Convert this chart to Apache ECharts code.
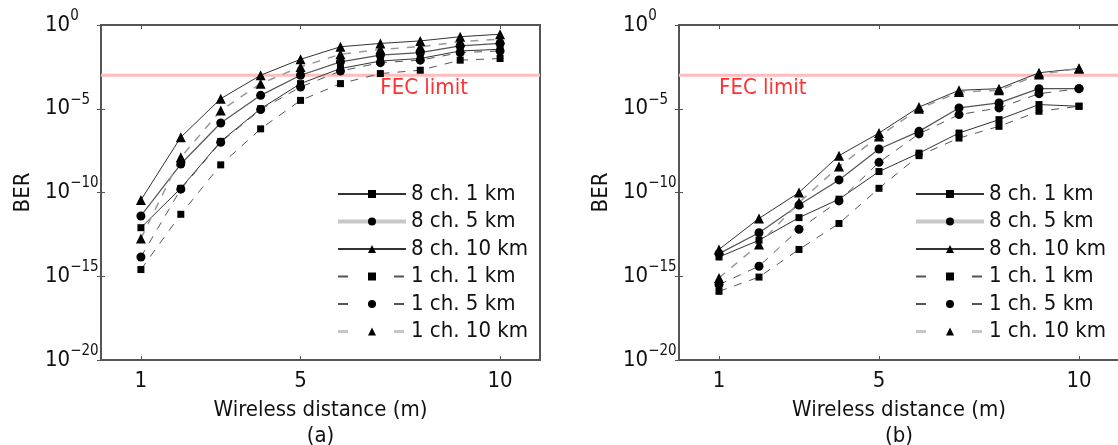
<!DOCTYPE html>
<html>
<head>
<meta charset="utf-8">
<script src="https://cdn.jsdelivr.net/npm/echarts@6/dist/echarts.min.js"></script>
<style>html,body{margin:0;padding:0;background:#fff}#c{width:1118px;height:445px}</style>
</head>
<body>
<div id="c"></div>
<script>
// Wireless distance (m)
const distances = [1, 2, 3, 4, 5, 6, 7, 8, 9, 10];
const xTickValues = [1, 5, 10];
const seriesNames = ['8 ch. 1 km', '8 ch. 5 km', '8 ch. 10 km', '1 ch. 1 km', '1 ch. 5 km', '1 ch. 10 km'];
const fecLimit = 1e-3;
const fecSpan = [0, 11];
// BER values given as log10(BER), panel (a)
const a8ch1  = [-12.1, -9.75, -6.95, -5.0, -3.5, -2.6, -2.15, -2.0, -1.55, -1.45];
const a8ch5  = [-11.4, -8.3, -5.85, -4.2, -3.0, -2.2, -1.8, -1.65, -1.25, -1.1];
const a8ch10 = [-10.45, -6.7, -4.4, -3.0, -2.05, -1.3, -1.1, -0.95, -0.7, -0.55];
const a1ch1  = [-14.6, -11.3, -8.35, -6.2, -4.5, -3.5, -2.9, -2.7, -2.1, -2.0];
const a1ch5  = [-13.85, -9.8, -7.0, -5.05, -3.7, -2.75, -2.25, -2.1, -1.65, -1.55];
const a1ch10 = [-12.75, -7.9, -5.1, -3.5, -2.5, -1.75, -1.45, -1.3, -1.0, -0.85];
// panel (b)
const b8ch1  = [-13.85, -12.85, -11.5, -10.4, -8.75, -7.65, -6.45, -5.65, -4.75, -4.85];
const b8ch5  = [-13.65, -12.4, -10.75, -9.25, -7.4, -6.35, -4.95, -4.65, -3.8, -3.8];
const b8ch10 = [-13.4, -11.55, -10.0, -7.8, -6.45, -4.9, -3.9, -3.8, -2.85, -2.6];
const b1ch1  = [-15.9, -15.05, -13.4, -11.85, -9.75, -7.8, -6.75, -6.05, -5.15, -4.85];
const b1ch5  = [-15.5, -14.4, -12.2, -10.5, -8.2, -6.5, -5.35, -4.95, -4.1, -3.8];
const b1ch10 = [-15.1, -13.1, -10.6, -8.45, -6.65, -5.0, -4.0, -3.9, -2.95, -2.6];

const FONT = '"DejaVu Sans Condensed", "DejaVu Sans", sans-serif';
const styles = [
  {symbol: 'rect', size: 7, color: '#333', width: 1, dash: 'solid', legend: {}},
  {symbol: 'circle', size: 9, color: '#555', width: 1.2, dash: 'solid', legend: {color: '#c8c8c8', width: 4}},
  {symbol: 'triangle', size: 10, color: '#333', width: 1, dash: 'solid', legend: {}},
  {symbol: 'rect', size: 7, color: '#555', width: 1, dash: [8, 8], legend: {type: [10, 46]}},
  {symbol: 'circle', size: 9, color: '#555', width: 1, dash: [8, 8], legend: {type: [10, 46]}},
  {symbol: 'triangle', size: 10, color: '#999', width: 1.5, dash: [8, 8], legend: {type: [10, 46], color: '#c8c8c8', width: 3}}
];
const panels = [
  [a8ch1, a8ch5, a8ch10, a1ch1, a1ch5, a1ch10],
  [b8ch1, b8ch5, b8ch10, b1ch1, b1ch5, b1ch10]
];
const gridsPos = [{left: 101, top: 25, width: 439, height: 335}, {left: 679, top: 25, width: 440, height: 335}];
const fecLabelX = [7, 1];

function yFmt(v) {
  const e = Math.round(Math.log10(v));
  return '{b|10}{s|' + (e === 0 ? '0' : '\u2212' + (-e)) + '}';
}

const grid = [], xAxis = [], yAxis = [], series = [];
gridsPos.forEach((g, i) => {
  grid.push(Object.assign({show: true, borderColor: '#555', borderWidth: 2, backgroundColor: 'transparent',
    containLabel: false, outerBoundsMode: 'none'}, g));
  xAxis.push({
    gridIndex: i, type: 'value', min: 0, max: 11, position: 'bottom',
    name: 'Wireless distance (m)\n' + (i === 0 ? '(a)' : '(b)'), nameLocation: 'middle', nameGap: 36,
    nameTextStyle: {fontFamily: FONT, fontSize: 22, color: '#111', lineHeight: 26},
    axisLine: {show: false}, splitLine: {show: false},
    axisTick: {show: true, inside: true, length: 4, customValues: xTickValues, lineStyle: {color: '#555'}},
    axisLabel: {customValues: xTickValues, margin: 10, fontFamily: FONT, fontSize: 22, color: '#111'}
  });
  xAxis.push({
    gridIndex: i, type: 'value', min: 0, max: 11, position: 'top',
    axisLine: {show: false}, splitLine: {show: false},
    axisTick: {show: true, inside: true, length: 4, customValues: xTickValues, lineStyle: {color: '#555'}},
    axisLabel: {show: false}
  });
  yAxis.push({
    gridIndex: i, type: 'log', logBase: 10, min: 1e-20, max: 1, interval: 5, position: 'left',
    name: 'BER', nameLocation: 'middle', nameGap: 67,
    nameTextStyle: {fontFamily: FONT, fontSize: 22, color: '#111'},
    axisLine: {show: false}, splitLine: {show: false}, minorTick: {show: false},
    axisTick: {show: true, inside: true, length: 4, lineStyle: {color: '#555'}},
    axisLabel: {margin: 56, align: 'left', formatter: yFmt, fontFamily: FONT, color: '#111',
      rich: {b: {fontFamily: FONT, fontSize: 22, color: '#111'},
             s: {fontFamily: FONT, fontSize: 15, color: '#111', padding: [0, 0, 18, 0]}}}
  });
  yAxis.push({
    gridIndex: i, type: 'log', logBase: 10, min: 1e-20, max: 1, interval: 5, position: 'right',
    axisLine: {show: false}, splitLine: {show: false},
    axisTick: {show: true, inside: true, length: 4, lineStyle: {color: '#555'}},
    axisLabel: {show: false}
  });
  // FEC limit line and label
  series.push({
    type: 'line', name: 'FEC limit', xAxisIndex: i * 2, yAxisIndex: i * 2, silent: true,
    data: fecSpan.map(x => [x, fecLimit]), showSymbol: false, symbol: 'none',
    lineStyle: {color: '#ffbcbc', width: 3}, z: 1,
    markPoint: {silent: true, symbol: 'circle', symbolSize: 0,
      label: {show: true, position: 'right', distance: 0, formatter: 'FEC limit', fontFamily: FONT, fontSize: 22, color: '#ff3030'},
      data: [{coord: [fecLabelX[i], Math.pow(10, -3.8)]}]}
  });
  panels[i].forEach((arr, k) => {
    const st = styles[k];
    series.push({
      type: 'line', name: seriesNames[k], xAxisIndex: i * 2, yAxisIndex: i * 2,
      data: distances.map((d, j) => [d, Math.pow(10, arr[j])]),
      symbol: st.symbol, symbolSize: st.size, showSymbol: true,
      itemStyle: {color: '#000', borderWidth: 0},
      lineStyle: {color: st.color, width: st.width, type: st.dash},
      z: 3
    });
  });
});

function legendFor(left) {
  return {
    orient: 'vertical', left: left, top: 178, itemWidth: 68, itemHeight: 10, itemGap: 5.5,
    selectedMode: false,
    textStyle: {fontFamily: FONT, fontSize: 22, color: '#111'},
    data: seriesNames.map((n, k) => ({name: n, lineStyle: styles[k].legend}))
  };
}

const chart = echarts.init(document.getElementById('c'), null, {renderer: 'canvas'});
chart.setOption({
  animation: false,
  backgroundColor: '#fff',
  grid: grid, xAxis: xAxis, yAxis: yAxis,
  legend: [legendFor(331), legendFor(909)],
  series: series
});
</script>
</body>
</html>
